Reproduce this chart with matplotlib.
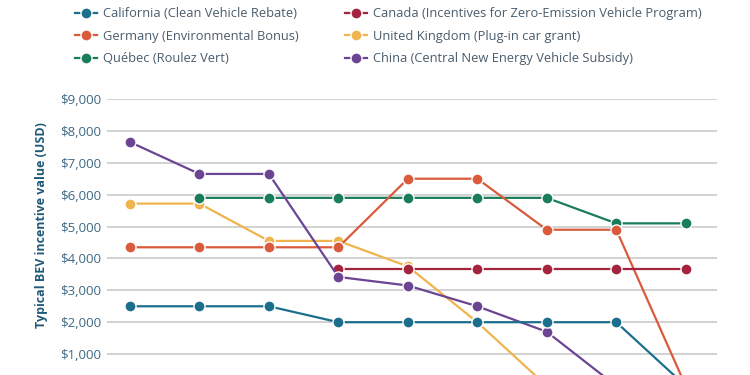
import numpy as np
import matplotlib.pyplot as plt

plt.rcParams['font.family'] = ['Open Sans', 'DejaVu Sans']

years = [2016, 2017, 2018, 2019, 2020, 2021, 2022, 2023, 2024]

california = [2500, 2500, 2500, 2000, 2000, 2000, 2000, 2000, 0]
germany = [4350, 4350, 4350, 4350, 6500, 6500, 4900, 4900, 0]
quebec = [np.nan, 5900, 5900, 5900, 5900, 5900, 5900, 5100, 5100]
canada = [np.nan, np.nan, np.nan, 3680, 3680, 3680, 3680, 3680, 3680]
uk = [5720, 5720, 4550, 4550, 3750, 2000, 0, np.nan, np.nan]
china = [7650, 6650, 6650, 3420, 3150, 2500, 1700, 0, np.nan]

series = [
    ('California (Clean Vehicle Rebate)', california, '#1b6f8c', 8),
    ('Germany (Environmental Bonus)', germany, '#d95b3c', 4),
    ('Québec (Roulez Vert)', quebec, '#1a7d59', 3),
    ('Canada (Incentives for Zero-Emission Vehicle Program)', canada, '#a3243c', 5),
    ('United Kingdom (Plug-in car grant)', uk, '#f0b44e', 2),
    ('China (Central New Energy Vehicle Subsidy)', china, '#6b4593', 6),
]

fig = plt.figure(figsize=(7.5, 3.75), dpi=100)
# the original chart is cropped at the bottom, so the axes run past the figure edge
ax = fig.add_axes([0.1427, -0.0293, 0.8133, 0.7653])

x = np.arange(len(years))
for label, vals, color, z in series:
    ax.plot(x, vals, '-o', color=color, lw=1.6, ms=8, mec='white', mew=1.0,
            label=label, zorder=z)

ax.set_xlim(-0.33, 8.45)
ax.set_ylim(0, 9000)
ax.set_yticks(range(1000, 10000, 1000))
ax.set_yticklabels(['${:,}'.format(v) for v in range(1000, 10000, 1000)])
ax.set_xticks(x)
ax.set_xticklabels([str(y) for y in years])
ax.tick_params(axis='x', labelbottom=False)
ax.grid(axis='y', color='#cfcfcf', lw=1.3)
ax.set_axisbelow(True)
for s in ax.spines.values():
    s.set_visible(False)
ax.tick_params(axis='both', length=0, labelsize=9.5, labelcolor='#3e6883', pad=4)
ax.set_ylabel('Typical BEV incentive value (USD)', fontsize=9, fontweight='bold',
              color='#1f5a78')
ax.yaxis.set_label_coords(-0.097, 0.56)

leg = fig.legend(loc='upper left', bbox_to_anchor=(0.085, 1.012), ncol=2, frameon=False,
                 fontsize=9.3, handlelength=1.7, handletextpad=0.45,
                 columnspacing=3.6, labelspacing=0.75)
for t in leg.get_texts():
    t.set_color('#4a5c6b')

fig.savefig('out.png', dpi=100)
